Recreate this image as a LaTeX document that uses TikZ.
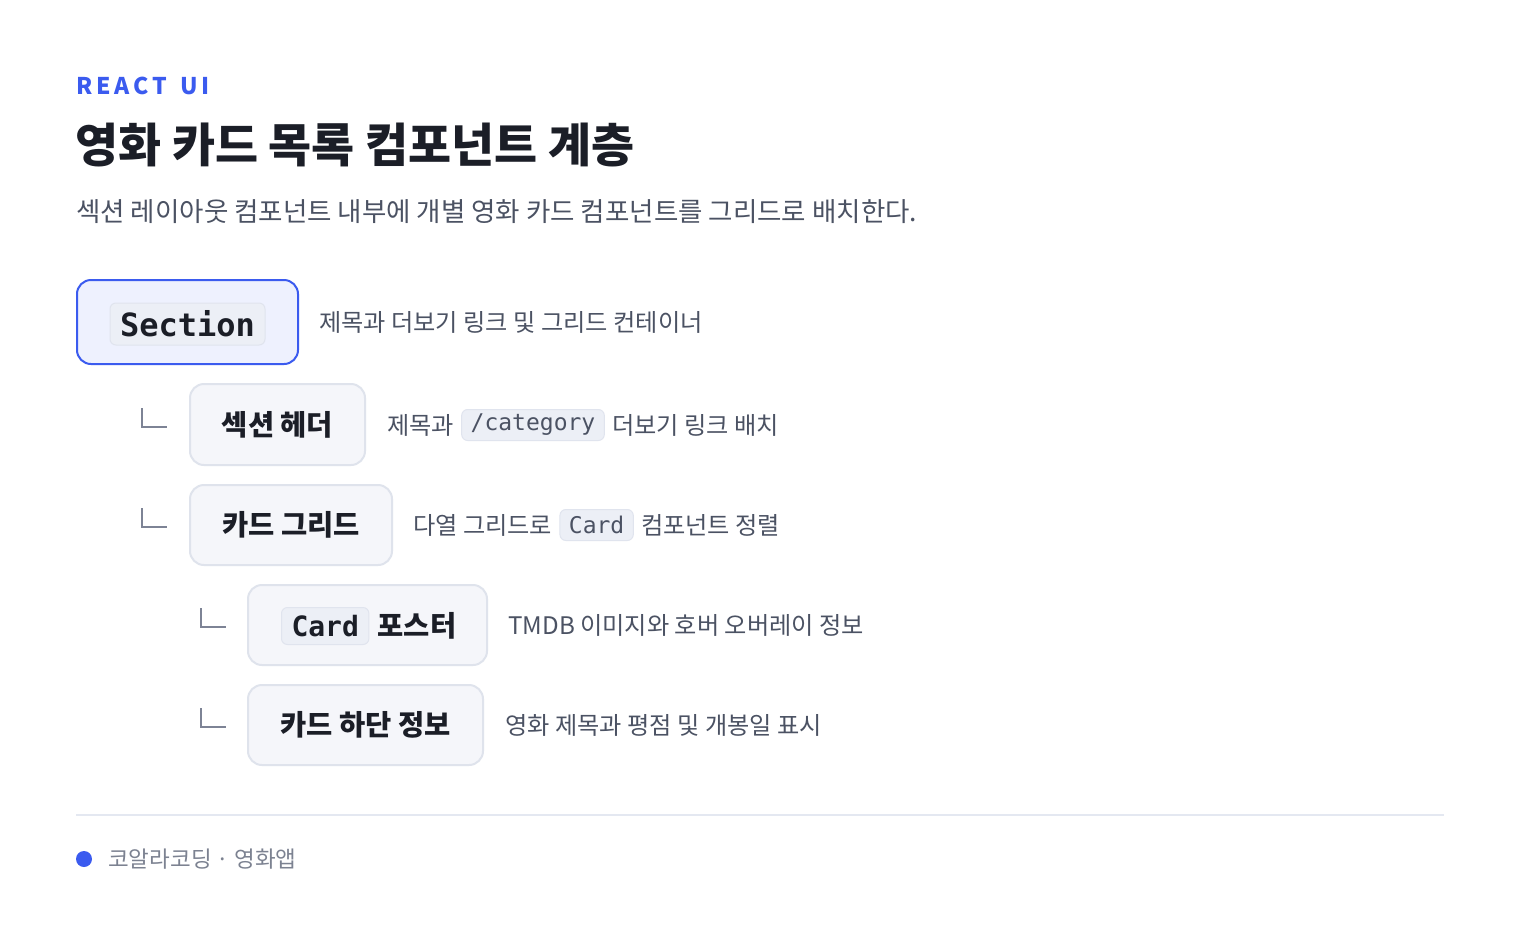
\documentclass[tikz,border=0pt]{standalone}
\usepackage{fontspec}
\setmainfont{Noto Sans CJK KR}
\setmonofont{DejaVu Sans Mono}
\newfontfamily\kickerfont{Noto Sans CJK KR}[LetterSpace=17]
\definecolor{accent}{HTML}{3B5BEF}
\definecolor{ink}{HTML}{1B1E27}
\definecolor{sub}{HTML}{4B5263}
\definecolor{boxfill}{HTML}{F5F6FA}
\definecolor{boxline}{HTML}{DFE3EC}
\definecolor{secfill}{HTML}{EEF1FE}
\definecolor{chipfill}{HTML}{ECEFF6}
\definecolor{chipline}{HTML}{E0E4EE}
\definecolor{tickcol}{HTML}{7D8395}
\definecolor{foot}{HTML}{7C8291}
\definecolor{rule}{HTML}{E4E8F1}
\tikzset{
  box/.style={draw=boxline, line width=2pt, fill=boxfill, rounded corners=14pt, inner sep=0pt},
  secbox/.style={draw=accent, line width=2pt, fill=secfill, rounded corners=14pt, inner sep=0pt},
  nodetext/.style={font=\fontsize{28.5}{34}\selectfont\bfseries, text=ink, inner sep=0pt},
  bigchip/.style={draw=chipline, line width=1pt, fill=chipfill, rounded corners=6pt, inner xsep=10pt, inner ysep=0pt, font=\fontsize{28}{32}\selectfont\ttfamily\bfseries, text=ink},
  desc/.style={font=\fontsize{24.2}{30}\selectfont, text=sub, inner sep=0pt, anchor=west},
  smallchip/.style={draw=chipline, line width=1pt, fill=chipfill, rounded corners=6pt, inner xsep=9pt, minimum height=31pt, font=\fontsize{23}{28}\selectfont\ttfamily, text=sub, anchor=west},
  tick/.style={draw=tickcol, line width=2pt},
}
\begin{document}
\begin{tikzpicture}[x=1pt,y=-1pt]
\useasboundingbox[fill=white] (0,0) rectangle (1520,951);

% header
\node[anchor=base west, inner sep=0pt, text=accent, font=\kickerfont\fontsize{23}{27}\selectfont\bfseries] (kicker) at (76,94) {REACT\hspace{4pt} UI};
\node[anchor=west, inner sep=0pt, text=ink, font=\fontsize{46.8}{54}\selectfont\bfseries] (title) at (75,145) {영화 카드 목록 컴포넌트 계층};
\node[anchor=west, inner sep=0pt, text=sub, font=\fontsize{26.5}{32}\selectfont] (subtitle) at (76,212) {섹션 레이아웃 컴포넌트 내부에 개별 영화 카드 컴포넌트를 그리드로 배치한다.};

% level 0
\node[secbox, minimum width=221pt, minimum height=84pt] (sec) at (187.5,322) {};
\node[bigchip, font=\fontsize{32}{36}\selectfont\ttfamily\bfseries, minimum height=42pt, minimum width=155pt] (secchip) at (187.5,324) {Section};
\node[desc] (d1) at (319,322) {제목과 더보기 링크 및 그리드 컨테이너};

% level 1: header
\coordinate (t2) at (142,408);
\draw[tick] (t2) |- ++(25,19);
\node[box, minimum width=175pt, minimum height=81pt] (hdr) at (277.5,424.5) {};
\node[nodetext] (hdrtxt) at (hdr.center) {섹션 헤더};
\node[desc] (d2a) at (387,425) {제목과};
\node[smallchip] (d2b) at ([xshift=7pt]d2a.east) {/category};
\node[desc] (d2c) at ([xshift=7pt]d2b.east) {더보기 링크 배치};

% level 1: grid
\coordinate (t3) at (142,508);
\draw[tick] (t3) |- ++(25,19);
\node[box, minimum width=202pt, minimum height=80pt] (grid) at (291,525) {};
\node[nodetext] (gridtxt) at (grid.center) {카드 그리드};
\node[desc] (d3a) at (413,525) {다열 그리드로};
\node[smallchip] (d3b) at ([xshift=7pt]d3a.east) {Card};
\node[desc] (d3c) at ([xshift=7pt]d3b.east) {컴포넌트 정렬};

% level 2: poster
\coordinate (t4) at (201,608);
\draw[tick] (t4) |- ++(25,19);
\node[box, minimum width=239pt, minimum height=80pt] (poster) at (367.5,625) {};
\node[bigchip, minimum height=37pt, anchor=west] (posterchip) at (281,626) {Card};
\node[nodetext, anchor=west] (postertxt) at ([xshift=8pt]posterchip.east) {포스터};
\node[desc] (d4) at (508,625) {TMDB 이미지와 호버 오버레이 정보};

% level 2: footer info
\coordinate (t5) at (201,708);
\draw[tick] (t5) |- ++(25,19);
\node[box, minimum width=235pt, minimum height=80pt] (info) at (365.5,725) {};
\node[nodetext] (infotxt) at (info.center) {카드 하단 정보};
\node[desc] (d5) at (505,725) {영화 제목과 평점 및 개봉일 표시};

% footer
\coordinate (r1) at (76,815);
\coordinate (r2) at (1444,815);
\draw[draw=rule, line width=2pt] (r1) -- (r2);
\node[circle, fill=accent, inner sep=0pt, minimum size=16pt] (dot) at (84,859) {};
\node[anchor=west, inner sep=0pt, text=foot, font=\fontsize{22.5}{27}\selectfont] (foottxt) at (108,859) {코알라코딩 · 영화앱};
\end{tikzpicture}
\end{document}
